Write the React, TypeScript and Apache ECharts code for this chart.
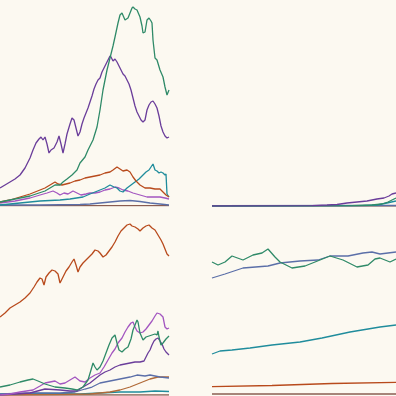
import React, { useEffect, useRef } from "react";
import * as echarts from "echarts";

// Panel A (top-left): [t, value]
const aGreen = [[0,4],[15,7],[30,10],[45,15],[55,21],[60,21],[63,24],[67,27],[72,31],[77,36],[80,43],[85,49],[88,56],[91,62],[93,66],[97,79],[100,96],[103,116],[107,136],[110,148],[113,160],[115,169],[118,183],[120,191],[122,193],[125,186],[128,188],[130,193],[132,198],[133,199],[135,197],[137,196],[140,189],[142,180],[143,173],[145,174],[147,186],[149,188],[151,185],[152,183],[153,166],[155,148],[157,146],[160,136],[163,129],[165,119],[167,111],[169,116]];
const aPurple = [[0,18],[5,21],[10,24],[15,27],[20,31],[25,38],[30,48],[33,56],[36,63],[39,67],[41,69],[43,66],[45,69],[47,62],[49,53],[51,56],[54,58],[57,64],[59,70],[61,62],[63,53],[65,62],[67,72],[70,82],[72,88],[74,86],[76,78],[78,70],[80,74],[82,82],[84,88],[86,93],[88,98],[90,104],[92,110],[94,117],[96,122],[98,126],[100,128],[102,134],[104,138],[106,142],[108,146],[110,150],[111,149],[113,145],[115,147],[117,144],[119,140],[121,136],[123,132],[125,130],[127,126],[129,122],[131,116],[133,108],[135,100],[137,94],[139,90],[141,86],[143,84],[145,86],[147,96],[149,101],[151,104],[153,105],[155,102],[157,98],[159,90],[161,80],[163,74],[165,70],[167,68],[169,69]];
const aOrange = [[0,4],[10,6],[20,9],[30,12],[40,16],[45,18],[50,21],[55,24],[58,22],[62,21],[66,22],[70,23],[75,25],[80,26],[85,28],[90,29],[95,30],[100,31],[105,33],[110,34],[113,36],[117,39],[120,37],[123,35],[127,36],[130,34],[133,29],[136,25],[140,21],[145,18],[150,18],[155,17],[160,17],[163,14],[166,11],[169,9]];
const aTeal = [[0,1],[20,3],[40,5],[60,6],[70,7],[83,9],[90,12],[100,16],[105,18],[110,21],[114,19],[117,18],[120,15],[123,14],[127,18],[131,21],[135,24],[139,27],[143,31],[146,34],[149,36],[151,39],[153,42],[155,36],[157,35],[159,33],[161,34],[163,33],[165,31],[166,32],[167,12],[169,9]];
const aPink = [[0,3],[15,5],[30,8],[40,11],[47,13],[53,15],[57,13],[60,11],[64,13],[68,12],[73,15],[77,13],[81,11],[86,12],[90,13],[95,13],[100,14],[105,16],[110,17],[115,19],[119,18],[123,16],[128,15],[133,13],[140,11],[147,9],[153,9],[160,9],[165,8],[169,7]];
const aSlate = [[0,1],[40,1],[80,1.5],[90,2],[100,3],[110,4],[120,5],[130,5.5],[140,4.5],[150,3],[160,2],[169,1]];
const aBrown = [[0,0.3],[169,0.3]];

// Panel B (top-right)
const bPurple = [[0,0],[100,0.3],[115,1],[125,1.5],[135,3],[145,4],[155,5],[165,7],[172,8],[177,10],[180,12],[184,13]];
const bGreen = [[0,0],[140,0.3],[160,1],[170,2],[176,4],[180,6],[184,8]];
const bTeal = [[0,0],[150,0.3],[165,1],[175,3],[184,5]];
const bSlate = [[0,0.3],[184,0.5]];
const bBrown = [[0,0],[184,0]];

// Panel C (bottom-left)
const cOrange = [[0,78],[5,82],[10,87],[15,90],[20,93],[25,97],[30,102],[34,108],[37,113],[40,117],[42,116],[44,110],[46,118],[49,122],[52,125],[55,124],[58,121],[60,112],[63,118],[66,124],[69,128],[72,133],[74,136],[76,130],[78,123],[80,128],[83,132],[86,135],[89,138],[92,141],[95,145],[98,144],[100,142],[103,138],[106,140],[109,144],[112,148],[115,153],[118,159],[121,164],[124,167],[127,170],[130,171],[132,169],[135,168],[138,166],[140,164],[143,167],[146,169],[149,170],[152,167],[155,165],[158,160],[161,155],[163,151],[165,146],[167,141],[169,139]];
const cGreen = [[0,8],[10,10],[20,13],[28,15],[33,16],[38,14],[45,11],[55,8],[65,7],[72,6],[77,5],[83,8],[88,15],[91,25],[93,32],[95,28],[97,25],[100,28],[103,34],[106,42],[109,50],[112,57],[115,60],[117,52],[119,45],[122,43],[125,46],[128,48],[131,56],[133,65],[135,70],[137,75],[138,73],[140,62],[143,55],[146,58],[149,59],[152,60],[155,61],[157,60],[158,64],[159,58],[161,50],[163,52],[166,56],[169,59]];
const cPink = [[0,0],[10,1],[20,3],[33,5],[40,9],[45,12],[50,13],[55,14],[60,11],[65,12],[70,15],[75,18],[80,14],[85,13],[90,17],[95,20],[100,22],[104,28],[108,35],[112,42],[115,46],[118,52],[122,57],[125,63],[128,68],[131,72],[133,73],[135,68],[137,64],[140,62],[143,63],[146,66],[149,70],[152,74],[155,79],[157,82],[160,81],[163,78],[165,68],[167,66],[169,67]];
const cPurple = [[0,0],[15,1],[30,2],[45,6],[60,5],[70,4],[77,4],[83,8],[90,12],[95,16],[100,20],[105,23],[110,25],[115,28],[120,30],[125,31],[130,32],[135,33],[140,33],[144,34],[146,38],[148,42],[150,45],[152,50],[154,54],[156,56],[158,57],[160,54],[162,51],[164,46],[166,43],[169,40]];
const cSlate = [[0,1],[30,2],[60,2],[75,3],[85,6],[92,8],[100,12],[110,14],[120,16],[130,18],[137,20],[145,19],[150,20],[160,18],[169,17]];
const cTan = [[0,0],[60,0.5],[90,1],[100,2],[110,3],[120,5],[130,8],[140,12],[150,16],[158,18],[169,18]];
const cTeal = [[0,1],[40,1.5],[80,1],[100,2],[120,3],[140,3],[155,4],[169,3.5]];
const cBrown = [[0,0],[169,0]];

// Panel D (bottom-right)
const dGreen = [[0,133],[6,130],[13,133],[20,139],[31,135],[41,140],[50,142],[56,146],[63,138],[68,133],[80,127],[93,129],[103,133],[118,139],[131,135],[145,128],[156,130],[163,136],[168,137],[178,133],[184,136]];
const dSlate = [[0,117],[13,121],[31,127],[56,129],[68,132],[88,134],[106,135],[118,139],[136,139],[151,142],[160,143],[168,141],[184,143]];
const dTeal = [[0,41],[8,44],[20,45],[38,47],[60,50],[88,53],[110,57],[138,63],[150,65],[168,68],[184,70]];
const dOrange = [[0,8.3],[60,9.5],[120,11.5],[184,12.7]];
const dBrown = [[0,1],[184,1]];

const C = {
  green: "#2f8a68",
  purple: "#6a3d9a",
  orange: "#b84a1c",
  teal: "#1f8c9c",
  pink: "#a356c0",
  slate: "#5b6fa8",
  tan: "#b06a38",
  brown: "#8a5c50",
};

function line(data: number[][], color: string, idx: number) {
  return {
    type: "line",
    data,
    xAxisIndex: idx,
    yAxisIndex: idx,
    showSymbol: false,
    symbol: "none",
    lineStyle: { color, width: 1.3 },
    itemStyle: { color },
    silent: true,
  };
}

export default function App() {
  const ref = useRef<HTMLDivElement>(null);
  useEffect(() => {
    if (!ref.current) return;
    const chart = echarts.init(ref.current, null, { renderer: "svg" });
    const grids = [
      { left: 0, top: 6, width: 169, height: 200 },
      { left: 212, top: 6, width: 184, height: 200 },
      { left: 0, top: 216, width: 169, height: 179 },
      { left: 212, top: 216, width: 184, height: 179 },
    ];
    const xMax = [169, 184, 169, 184];
    const yMax = [200, 200, 179, 179];
    chart.setOption({
      animation: false,
      backgroundColor: "#fcf9f1",
      grid: grids,
      xAxis: grids.map((_, i) => ({ type: "value", gridIndex: i, min: 0, max: xMax[i], show: false })),
      yAxis: grids.map((_, i) => ({ type: "value", gridIndex: i, min: 0, max: yMax[i], show: false })),
      series: [
        line(aBrown, C.brown, 0),
        line(aSlate, C.slate, 0),
        line(aPink, C.pink, 0),
        line(aTeal, C.teal, 0),
        line(aOrange, C.orange, 0),
        line(aPurple, C.purple, 0),
        line(aGreen, C.green, 0),
        line(bBrown, C.brown, 1),
        line(bSlate, C.slate, 1),
        line(bTeal, C.teal, 1),
        line(bGreen, C.green, 1),
        line(bPurple, C.purple, 1),
        line(cBrown, C.brown, 2),
        line(cTeal, C.teal, 2),
        line(cTan, C.tan, 2),
        line(cSlate, C.slate, 2),
        line(cPurple, C.purple, 2),
        line(cPink, C.pink, 2),
        line(cGreen, C.green, 2),
        line(cOrange, C.orange, 2),
        line(dBrown, C.brown, 3),
        line(dOrange, C.orange, 3),
        line(dTeal, C.teal, 3),
        line(dSlate, C.slate, 3),
        line(dGreen, C.green, 3),
      ],
    });
    return () => chart.dispose();
  }, []);
  return (
    <div
      ref={ref}
      style={{ position: "fixed", left: 0, top: 0, width: 396, height: 396 }}
    />
  );
}
